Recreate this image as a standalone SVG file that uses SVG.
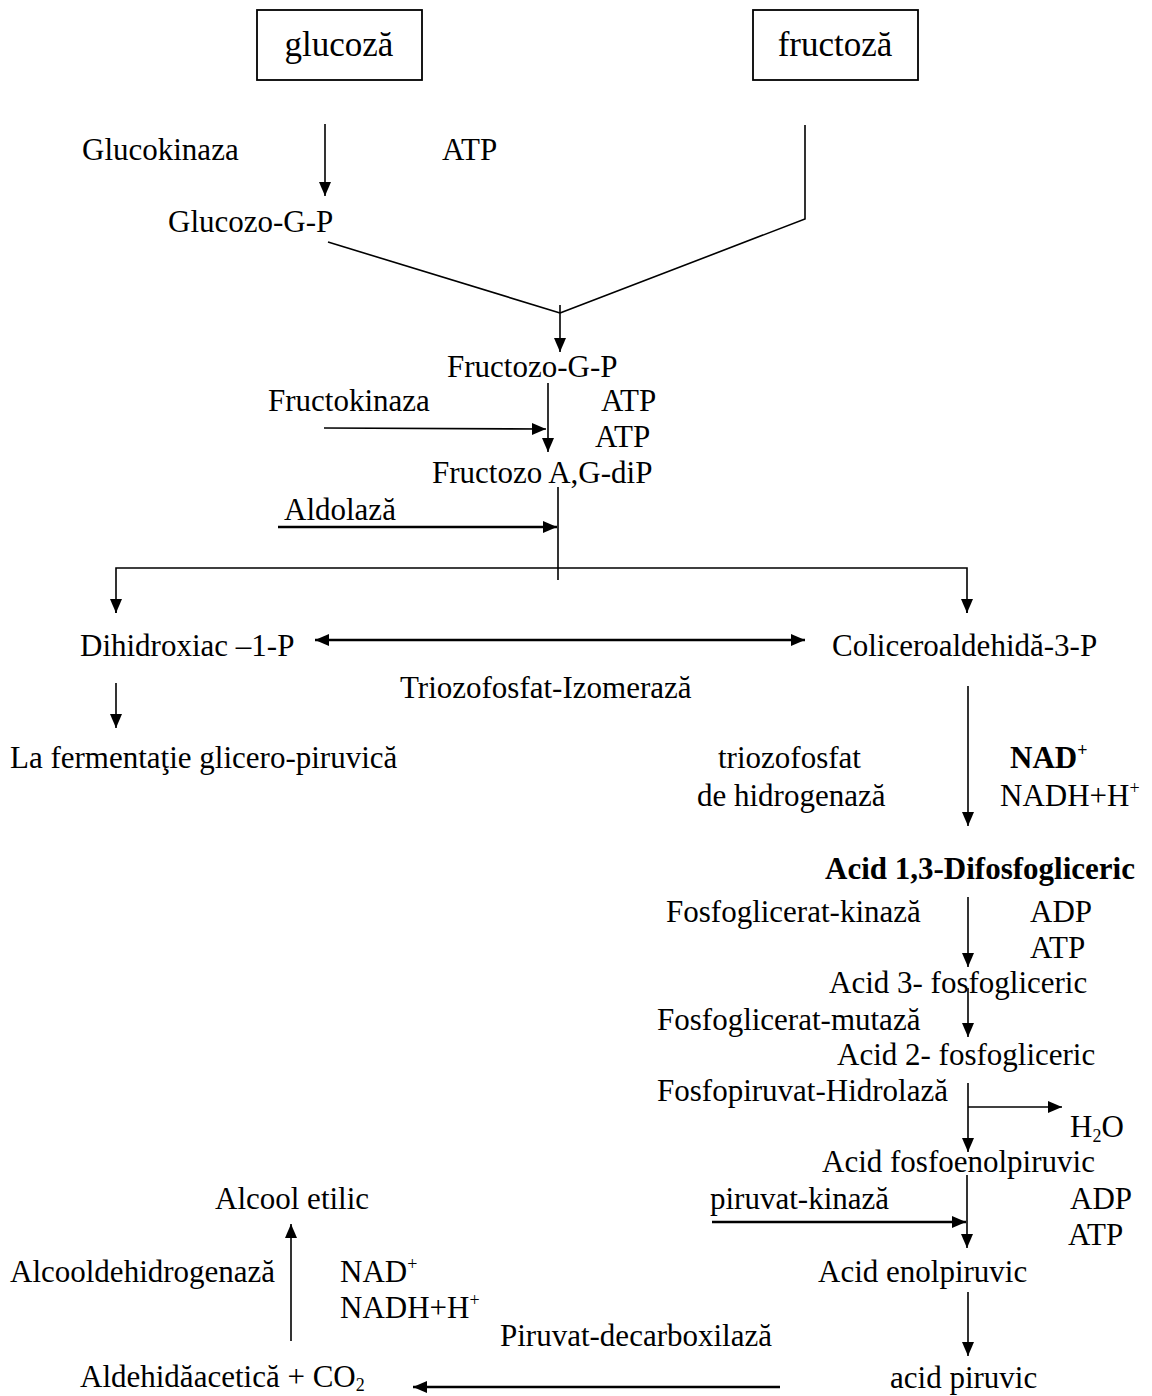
<svg xmlns="http://www.w3.org/2000/svg" width="1152" height="1396" viewBox="0 0 1152 1396">
<style>
text{font-family:"Liberation Serif","Times New Roman",serif;font-size:31px;fill:#000}
.b{font-weight:bold}
.big{font-size:35px}
.sup{font-size:18px}
line,polyline{stroke:#000;stroke-width:1.6;fill:none}
.thick{stroke-width:2.6}
</style>
<defs>
<marker id="ah" markerUnits="userSpaceOnUse" markerWidth="14" markerHeight="14" viewBox="0 0 14 14" refX="14" refY="7" orient="auto">
<path d="M0,1 L14,7 L0,13 Z" fill="#000"/>
</marker>
<marker id="ahs" markerUnits="userSpaceOnUse" markerWidth="14" markerHeight="14" viewBox="0 0 14 14" refX="0" refY="7" orient="auto">
<path d="M14,1 L0,7 L14,13 Z" fill="#000"/>
</marker>
</defs>
<rect width="1152" height="1396" fill="#fff"/>

<g id="n-glucoza"><rect x="257" y="10" width="165" height="70" fill="none" stroke="#000" stroke-width="1.8"/><text class="big" x="339" y="56" text-anchor="middle">glucoză</text></g>
<g id="n-fructoza"><rect x="753" y="10" width="165" height="70" fill="none" stroke="#000" stroke-width="1.8"/><text class="big" x="835" y="56" text-anchor="middle">fructoză</text></g>
<g id="n-glucokinaza"><text x="82" y="160">Glucokinaza</text></g>
<g id="n-atp1"><text x="442" y="160">ATP</text></g>
<g id="n-glucozo"><text x="168" y="232">Glucozo-G-P</text></g>
<g id="n-fructozogp"><text x="447" y="377">Fructozo-G-P</text></g>
<g id="n-fructokinaza"><text x="268" y="411">Fructokinaza</text></g>
<g id="n-atp2"><text x="601" y="411">ATP</text></g>
<g id="n-atp3"><text x="595" y="447">ATP</text></g>
<g id="n-fructozodip"><text x="432" y="483">Fructozo A,G-diP</text></g>
<g id="n-aldolaza"><text x="284" y="520">Aldolază</text></g>
<g id="n-dihidroxiac"><text x="80" y="656">Dihidroxiac –1-P</text></g>
<g id="n-coliceroaldehida"><text x="832" y="656">Coliceroaldehidă-3-P</text></g>
<g id="n-izomeraza"><text x="400" y="698">Triozofosfat-Izomerază</text></g>
<g id="n-fermentatie"><text x="10" y="768">La fermentaţie glicero-piruvică</text></g>
<g id="n-triozofosfat"><text x="718" y="768">triozofosfat</text><text x="697" y="806">de hidrogenază</text></g>
<g id="n-nad1"><text class="b" x="1010" y="768">NAD<tspan class="sup" dy="-12">+</tspan></text></g>
<g id="n-nadh1"><text x="1000" y="806">NADH+H<tspan class="sup" dy="-12">+</tspan></text></g>
<g id="n-difosfo"><text class="b" x="825" y="879">Acid 1,3-Difosfogliceric</text></g>
<g id="n-fgkinaza"><text x="666" y="922">Fosfoglicerat-kinază</text></g>
<g id="n-adp1"><text x="1030" y="922">ADP</text></g>
<g id="n-atp4"><text x="1030" y="958">ATP</text></g>
<g id="n-acid3"><text x="829" y="993">Acid 3- fosfogliceric</text></g>
<g id="n-mutaza"><text x="657" y="1030">Fosfoglicerat-mutază</text></g>
<g id="n-acid2"><text x="837" y="1065">Acid 2- fosfogliceric</text></g>
<g id="n-hidrolaza"><text x="657" y="1101">Fosfopiruvat-Hidrolază</text></g>
<g id="n-h2o"><text x="1070" y="1137">H<tspan class="sup" dy="5">2</tspan><tspan dy="-5">O</tspan></text></g>
<g id="n-fosfoenol"><text x="822" y="1172">Acid fosfoenolpiruvic</text></g>
<g id="n-pirkinaza"><text x="710" y="1209">piruvat-kinază</text></g>
<g id="n-adp2"><text x="1070" y="1209">ADP</text></g>
<g id="n-atp5"><text x="1068" y="1245">ATP</text></g>
<g id="n-enolpiruvic"><text x="818" y="1282">Acid enolpiruvic</text></g>
<g id="n-alcooletilic"><text x="215" y="1209">Alcool etilic</text></g>
<g id="n-alcooldh"><text x="10" y="1282">Alcooldehidrogenază</text></g>
<g id="n-nad2"><text x="340" y="1282">NAD<tspan class="sup" dy="-12">+</tspan></text></g>
<g id="n-nadh2"><text x="340" y="1318">NADH+H<tspan class="sup" dy="-12">+</tspan></text></g>
<g id="n-decarboxilaza"><text x="500" y="1346">Piruvat-decarboxilază</text></g>
<g id="n-piruvic"><text x="890" y="1388">acid piruvic</text></g>
<g id="n-aldehida"><text x="80" y="1387">Aldehidăacetică + CO<tspan class="sup" dy="4">2</tspan></text></g>

<g id="connectors">
<line x1="325" y1="124" x2="325" y2="196" marker-end="url(#ah)"/>
<polyline points="805,125 805,219 560,313"/>
<line x1="328" y1="242" x2="560" y2="313"/>
<line x1="560" y1="305" x2="560" y2="352" marker-end="url(#ah)"/>
<line x1="548" y1="383" x2="548" y2="452" marker-end="url(#ah)"/>
<line x1="324" y1="428" x2="546" y2="429" marker-end="url(#ah)"/>
<line x1="558" y1="487" x2="558" y2="580"/>
<line x1="278" y1="527" x2="557" y2="527" class="thick" marker-end="url(#ah)"/>
<polyline points="116,613 116,568 967,568 967,613"/>
<line x1="116" y1="600" x2="116" y2="613" marker-end="url(#ah)"/>
<line x1="967" y1="600" x2="967" y2="613" marker-end="url(#ah)"/>
<line x1="315" y1="640" x2="805" y2="640" class="thick" marker-start="url(#ahs)" marker-end="url(#ah)"/>
<line x1="116" y1="683" x2="116" y2="728" marker-end="url(#ah)"/>
<line x1="968" y1="686" x2="968" y2="826" marker-end="url(#ah)"/>
<line x1="968" y1="897" x2="968" y2="967" marker-end="url(#ah)"/>
<line x1="968" y1="988" x2="968" y2="1037" marker-end="url(#ah)"/>
<line x1="968" y1="1083" x2="968" y2="1152" marker-end="url(#ah)"/>
<line x1="968" y1="1107" x2="1062" y2="1107" marker-end="url(#ah)"/>
<line x1="967" y1="1175" x2="967" y2="1248" marker-end="url(#ah)"/>
<line x1="712" y1="1222" x2="966" y2="1222" class="thick" marker-end="url(#ah)"/>
<line x1="968" y1="1292" x2="968" y2="1356" marker-end="url(#ah)"/>
<line x1="780" y1="1387" x2="413" y2="1387" class="thick" marker-end="url(#ah)"/>
<line x1="291" y1="1341" x2="291" y2="1224" marker-end="url(#ah)"/>
</g>
</svg>
